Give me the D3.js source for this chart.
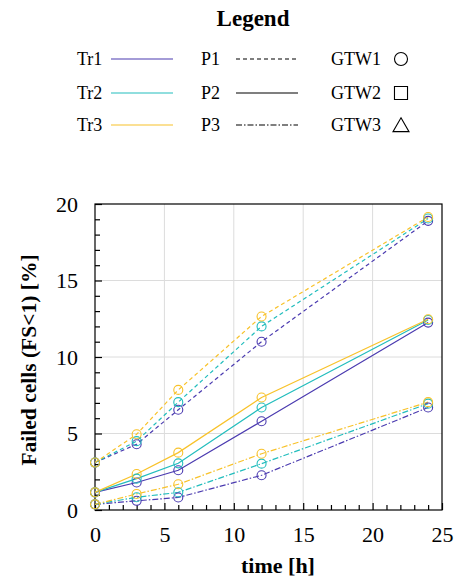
<!DOCTYPE html>
<html>
<head>
<meta charset="utf-8">
<script src="https://cdn.jsdelivr.net/npm/d3@7"></script>
<style>
  body { margin: 0; background: #fff; }
</style>
</head>
<body>
<svg id="chart" width="454" height="580"></svg>
<script>
// data
var times = [0, 3, 6, 12, 24];
var trNames = ['Tr1', 'Tr2', 'Tr3'];
var pNames = ['P1', 'P2', 'P3'];
var gtwNames = ['GTW1', 'GTW2', 'GTW3'];

var p1Tr1 = [3.1, 4.3, 6.55, 11.0, 18.9];
var p1Tr2 = [3.1, 4.5, 7.05, 12.0, 19.05];
var p1Tr3 = [3.1, 4.95, 7.85, 12.65, 19.15];
var p2Tr1 = [1.15, 1.8, 2.6, 5.8, 12.25];
var p2Tr2 = [1.15, 2.05, 3.05, 6.7, 12.42];
var p2Tr3 = [1.15, 2.35, 3.75, 7.35, 12.47];
var p3Tr1 = [0.37, 0.6, 0.82, 2.27, 6.7];
var p3Tr2 = [0.37, 0.83, 1.15, 3.03, 6.95];
var p3Tr3 = [0.37, 1.05, 1.68, 3.68, 7.05];

var xTicks = [0, 5, 10, 15, 20, 25];
var yTicks = [0, 5, 10, 15, 20];

var colors = {Tr1: '#4b3bb0', Tr2: '#22bdbd', Tr3: '#f8c22a'};
var dashes = {P1: '4,3', P2: null, P3: '6,2,1.5,2'};
var serif = 'Liberation Serif';

var series = [
  {tr: 'Tr1', p: 'P1', values: p1Tr1}, {tr: 'Tr2', p: 'P1', values: p1Tr2}, {tr: 'Tr3', p: 'P1', values: p1Tr3},
  {tr: 'Tr1', p: 'P2', values: p2Tr1}, {tr: 'Tr2', p: 'P2', values: p2Tr2}, {tr: 'Tr3', p: 'P2', values: p2Tr3},
  {tr: 'Tr1', p: 'P3', values: p3Tr1}, {tr: 'Tr2', p: 'P3', values: p3Tr2}, {tr: 'Tr3', p: 'P3', values: p3Tr3}
];

var svg = d3.select('#chart');
var margin = {top: 204, right: 12, bottom: 70, left: 95};
var width = 454 - margin.left - margin.right,
    height = 580 - margin.top - margin.bottom;

var x = d3.scaleLinear().domain([0, 25]).range([0, width]);
var y = d3.scaleLinear().domain([0, 20]).range([height, 0]);

function label(parent, txt, px, py, size, bold) {
  return parent.append('text')
      .attr('x', px).attr('y', py)
      .attr('font-family', serif)
      .attr('font-size', size)
      .attr('font-weight', bold ? 'bold' : 'normal')
      .attr('fill', '#000')
      .text(txt);
}

//------------------------------------------------------------
// legend
var legend = svg.append('g').attr('class', 'legend');
label(legend, 'Legend', 253, 26, 23, true).attr('text-anchor', 'middle');

var rowY = [59, 93, 125];
trNames.forEach(function (d, i) {
  label(legend, d, 77, rowY[i] + 6, 18);
  legend.append('line').attr('x1', 111).attr('x2', 173).attr('y1', rowY[i]).attr('y2', rowY[i])
      .attr('stroke', colors[d]).attr('stroke-width', 1.2);
});
pNames.forEach(function (d, i) {
  label(legend, d, 201, rowY[i] + 6, 18);
  legend.append('line').attr('x1', 236).attr('x2', 298).attr('y1', rowY[i]).attr('y2', rowY[i])
      .attr('stroke', '#000').attr('stroke-width', 1.2)
      .attr('stroke-dasharray', dashes[d]);
});
var symbols = [d3.symbolCircle, d3.symbolSquare, d3.symbolTriangle];
var symSizes = [133, 170, 111];
var symDy = [0, 0, 2];
gtwNames.forEach(function (d, i) {
  label(legend, d, 331, rowY[i] + 6, 18);
  legend.append('path')
      .attr('d', d3.symbol().type(symbols[i]).size(symSizes[i]))
      .attr('transform', 'translate(401,' + (rowY[i] + symDy[i]) + ')')
      .attr('fill', 'none').attr('stroke', '#000').attr('stroke-width', 1.1);
});

//------------------------------------------------------------
// plot
var g = svg.append('g').attr('transform', 'translate(' + margin.left + ',' + margin.top + ')');

// grid
g.selectAll('.gx').data(xTicks.slice(1, -1)).enter().append('line')
    .attr('x1', function (d) { return x(d); }).attr('x2', function (d) { return x(d); })
    .attr('y1', 0).attr('y2', height)
    .attr('stroke', '#dcdcdc').attr('stroke-width', 1);
g.selectAll('.gy').data(yTicks.slice(1, -1)).enter().append('line')
    .attr('x1', 0).attr('x2', width)
    .attr('y1', function (d) { return y(d); }).attr('y2', function (d) { return y(d); })
    .attr('stroke', '#dcdcdc').attr('stroke-width', 1);

// frame
g.append('rect').attr('width', width).attr('height', height)
    .attr('fill', 'none').attr('stroke', '#000').attr('stroke-width', 1.2);

// axes with inward ticks
var xAxis = g.append('g').attr('transform', 'translate(0,' + height + ')')
    .call(d3.axisBottom(x).tickValues(d3.range(0, 26)).tickSize(-5).tickPadding(13)
      .tickFormat(function (d) { return d % 5 === 0 ? d : ''; }));
var yAxis = g.append('g')
    .call(d3.axisLeft(y).tickValues(d3.range(0, 21)).tickSize(-5).tickPadding(17)
      .tickFormat(function (d) { return d % 5 === 0 ? d : ''; }));
[xAxis, yAxis].forEach(function (a) {
  a.attr('font-family', serif).attr('font-size', 22);
  a.select('.domain').remove();
  a.selectAll('.tick line').attr('stroke', '#000').attr('stroke-width', 1.2);
  a.selectAll('.tick text').attr('fill', '#000')
      .attr('font-family', serif).attr('font-size', 22);
});
xAxis.selectAll('.tick line').attr('y2', function (d) { return d % 5 === 0 ? -7 : -5; });
yAxis.selectAll('.tick line').attr('x2', function (d) { return d % 5 === 0 ? 7 : 5; });
xAxis.selectAll('.tick text').attr('dy', '0.85em');

// axis labels
label(svg, 'time [h]', 278, 573, 22, true).attr('text-anchor', 'middle');
label(svg, 'Failed cells (FS<1) [%]', 0, 0, 21.5, true)
    .attr('transform', 'translate(36,' + (margin.top + height / 2 + 3) + ') rotate(-90)')
    .attr('text-anchor', 'middle');

// lines
var line = d3.line()
    .x(function (d, i) { return x(times[i]); })
    .y(function (d) { return y(d); });

g.selectAll('.series').data(series).enter().append('path')
    .attr('class', 'series')
    .attr('d', function (d) { return line(d.values); })
    .attr('fill', 'none')
    .attr('stroke', function (d) { return colors[d.tr]; })
    .attr('stroke-width', 1.2)
    .attr('stroke-dasharray', function (d) { return dashes[d.p]; });

// markers
series.forEach(function (s) {
  g.selectAll(null).data(s.values).enter().append('circle')
      .attr('cx', function (d, i) { return x(times[i]); })
      .attr('cy', function (d) { return y(d); })
      .attr('r', 4.5)
      .attr('fill', 'none')
      .attr('stroke', colors[s.tr])
      .attr('stroke-width', 1.1);
});
</script>
</body>
</html>
